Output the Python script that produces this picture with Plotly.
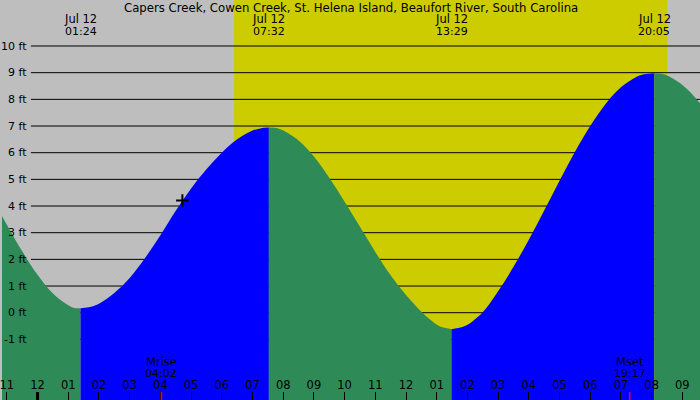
import plotly.graph_objects as go

# ---------------- data ----------------
title_text = "Capers Creek, Cowen Creek, St. Helena Island, Beaufort River, South Carolina"

# tide segments (falling = green, rising = blue)
seg1_time = ["2024-07-11 22:30", "2024-07-11 23:00", "2024-07-11 23:30", "2024-07-12 00:00",
             "2024-07-12 00:30", "2024-07-12 01:00", "2024-07-12 01:10", "2024-07-12 01:24"]
seg1_ft = [4.36, 3.30, 2.30, 1.42, 0.72, 0.28, 0.19, 0.165]

seg2_time = ["2024-07-12 01:24", "2024-07-12 01:40", "2024-07-12 02:00", "2024-07-12 02:30",
             "2024-07-12 03:00", "2024-07-12 03:30", "2024-07-12 04:00", "2024-07-12 04:30",
             "2024-07-12 05:00", "2024-07-12 05:30", "2024-07-12 06:00", "2024-07-12 06:30",
             "2024-07-12 07:00", "2024-07-12 07:15", "2024-07-12 07:32"]
seg2_ft = [0.165, 0.20, 0.34, 0.74, 1.30, 2.05, 2.90, 3.82, 4.66, 5.38, 6.00, 6.50, 6.83, 6.91, 6.94]

seg3_time = ["2024-07-12 07:32", "2024-07-12 07:50", "2024-07-12 08:00", "2024-07-12 08:30",
             "2024-07-12 09:00", "2024-07-12 09:30", "2024-07-12 10:00", "2024-07-12 10:30",
             "2024-07-12 11:00", "2024-07-12 11:30", "2024-07-12 12:00", "2024-07-12 12:30",
             "2024-07-12 13:00", "2024-07-12 13:10", "2024-07-12 13:29"]
seg3_ft = [6.94, 6.91, 6.83, 6.46, 5.86, 5.06, 4.16, 3.22, 2.28, 1.40, 0.66, 0.04, -0.44, -0.54, -0.62]

seg4_time = ["2024-07-12 13:29", "2024-07-12 13:50", "2024-07-12 14:00", "2024-07-12 14:30",
             "2024-07-12 15:00", "2024-07-12 15:30", "2024-07-12 16:00", "2024-07-12 16:30",
             "2024-07-12 17:00", "2024-07-12 17:30", "2024-07-12 18:00", "2024-07-12 18:30",
             "2024-07-12 19:00", "2024-07-12 19:30", "2024-07-12 19:45", "2024-07-12 20:05"]
seg4_ft = [-0.62, -0.54, -0.455, 0.02, 0.80, 1.72, 2.74, 3.83, 4.95, 6.03, 7.00, 7.83, 8.45, 8.84, 8.94, 8.98]

seg5_time = ["2024-07-12 20:05", "2024-07-12 20:25", "2024-07-12 21:00", "2024-07-12 21:30",
             "2024-07-12 22:00"]
seg5_ft = [8.98, 8.93, 8.54, 7.96, 7.18]

segments = [(seg1_time, seg1_ft, "#2e8b57"), (seg2_time, seg2_ft, "#0000ff"),
            (seg3_time, seg3_ft, "#2e8b57"), (seg4_time, seg4_ft, "#0000ff"),
            (seg5_time, seg5_ft, "#2e8b57")]

extreme_times = ["2024-07-12 01:24", "2024-07-12 07:32", "2024-07-12 13:29", "2024-07-12 20:05"]
extreme_labels = ["01:24", "07:32", "13:29", "20:05"]
extreme_date = "Jul 12"

sunrise = "2024-07-12 06:24"
sunset = "2024-07-12 20:30"

moon_events = [("Mrise", "04:02", "2024-07-12 04:02"), ("Mset", "19:17", "2024-07-12 19:17")]
midnight = "2024-07-12 00:00"

now_time = ["2024-07-12 04:43"]
now_ft = [4.21]

y_ticks = [-1, 0, 1, 2, 3, 4, 5, 6, 7, 8, 9, 10]

x_range = ["2024-07-11 22:50:30", "2024-07-12 21:34:30"]
y_range = [-3.273, 11.725]
BASE = -5

# ---------------- figure ----------------
fig = go.Figure()
for t, v, c in segments:
    fig.add_trace(go.Scatter(x=[t[0], t[-1]], y=[BASE, BASE], mode="lines",
                             line=dict(width=0), hoverinfo="skip", showlegend=False))
    fig.add_trace(go.Scatter(x=t, y=v, mode="lines", line=dict(width=0, shape="spline", color=c),
                             fill="tonexty", fillcolor=c, showlegend=False))

fig.add_trace(go.Scatter(x=now_time, y=now_ft, mode="markers",
                         marker=dict(symbol="cross-thin", size=9, line=dict(width=2, color="black")),
                         showlegend=False))

shapes = [dict(type="rect", xref="x", yref="paper", x0=sunrise, x1=sunset, y0=0, y1=1,
               fillcolor="#cccc00", line=dict(width=0), layer="below")]
for v in y_ticks:
    shapes.append(dict(type="line", xref="paper", yref="y", x0=29 / 700, x1=1, y0=v, y1=v,
                       line=dict(color="black", width=1), layer="below"))
shapes.append(dict(type="line", xref="x", yref="paper", x0=midnight, x1=midnight, y0=0, y1=8 / 400,
                   line=dict(color="black", width=3)))
for _, _, t in moon_events:
    shapes.append(dict(type="line", xref="x", yref="paper", x0=t, x1=t, y0=0, y1=8 / 400,
                       line=dict(color="#ff0000", width=1.5)))

FONT = "DejaVu Sans"
def f(size):
    return dict(size=size, color="black", family=FONT)

ann = [dict(text=title_text, xref="paper", yref="paper", x=0.5, y=1 - 7.5 / 400, showarrow=False,
            xanchor="center", yanchor="middle", font=f(11.7))]
for t, lab in zip(extreme_times, extreme_labels):
    ann.append(dict(text=extreme_date, xref="x", yref="paper", x=t, y=1 - 19.5 / 400, showarrow=False,
                    xanchor="center", yanchor="middle", font=f(11.5)))
    ann.append(dict(text=lab, xref="x", yref="paper", x=t, y=1 - 31 / 400, showarrow=False,
                    xanchor="center", yanchor="middle", font=f(11)))
for name, lab, t in moon_events:
    ann.append(dict(text=name, xref="x", yref="paper", x=t, y=1 - 361.5 / 400, showarrow=False,
                    xanchor="center", yanchor="middle", font=f(11.5)))
    ann.append(dict(text=lab, xref="x", yref="paper", x=t, y=1 - 373 / 400, showarrow=False,
                    xanchor="center", yanchor="middle", font=f(11)))
for v in y_ticks:
    ann.append(dict(text=f"{v} ft", xref="paper", yref="y", x=27.5 / 700, y=v, showarrow=False,
                    xanchor="right", yanchor="middle", font=f(11)))

fig.update_layout(
    width=700, height=400, margin=dict(l=0, r=0, t=0, b=0),
    paper_bgcolor="#bebebe", plot_bgcolor="#bebebe",
    shapes=shapes, annotations=ann, showlegend=False,
    xaxis=dict(type="date", range=x_range, dtick=3600000, tick0="2024-07-12 00:00",
               tickformat="%I", ticks="inside", ticklen=8, tickcolor="black", tickwidth=1,
               ticklabelposition="inside", ticklabeloverflow="allow",
               showgrid=False, zeroline=False, showline=False,
               tickfont=f(11.5)),
    yaxis=dict(range=y_range, showgrid=False, zeroline=False, showticklabels=False, ticks=""),
)

fig.write_html("out.html")
